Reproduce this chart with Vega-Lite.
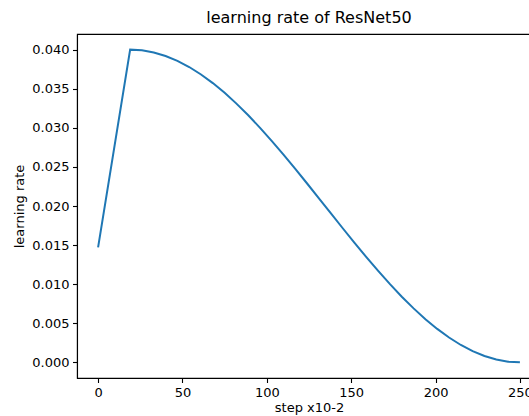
{
  "$schema": "https://vega.github.io/schema/vega-lite/v6.json",
  "autosize": {"type": "none"},
  "padding": {"left": 77, "top": 34, "right": 0, "bottom": 38},
  "width": 464,
  "height": 344,
  "background": "white",
  "config": {
    "font": "DejaVu Sans",
    "view": {"stroke": "black", "strokeWidth": 1.1},
    "axis": {
      "grid": false,
      "domainColor": "black",
      "domainWidth": 1.1,
      "tickColor": "black",
      "tickWidth": 1.1,
      "tickSize": 4.5,
      "labelPadding": 3.5,
      "labelFontSize": 13,
      "labelColor": "black",
      "labelFont": "DejaVu Sans",
      "titleFont": "DejaVu Sans",
      "titleFontSize": 13,
      "titleFontWeight": "normal",
      "titleColor": "black"
    }
  },
  "title": {
    "text": "learning rate of ResNet50",
    "fontSize": 16,
    "fontWeight": "normal",
    "font": "DejaVu Sans",
    "color": "black",
    "offset": 8
  },
  "data": {
    "values": [
      {"step": 0, "lr": 0.0147},
      {"step": 19, "lr": 0.04},
      {"step": 26, "lr": 0.039909},
      {"step": 33, "lr": 0.039639},
      {"step": 40, "lr": 0.03919},
      {"step": 47, "lr": 0.038567},
      {"step": 54, "lr": 0.037777},
      {"step": 61, "lr": 0.036825},
      {"step": 68, "lr": 0.035721},
      {"step": 75, "lr": 0.034475},
      {"step": 82, "lr": 0.033097},
      {"step": 89, "lr": 0.031601},
      {"step": 96, "lr": 0.03},
      {"step": 103, "lr": 0.028308},
      {"step": 110, "lr": 0.026541},
      {"step": 117, "lr": 0.024715},
      {"step": 124, "lr": 0.022846},
      {"step": 131, "lr": 0.020952},
      {"step": 138, "lr": 0.019048},
      {"step": 145, "lr": 0.017154},
      {"step": 152, "lr": 0.015285},
      {"step": 159, "lr": 0.013459},
      {"step": 166, "lr": 0.011692},
      {"step": 173, "lr": 0.01},
      {"step": 180, "lr": 0.008399},
      {"step": 187, "lr": 0.006903},
      {"step": 194, "lr": 0.005525},
      {"step": 201, "lr": 0.004279},
      {"step": 208, "lr": 0.003175},
      {"step": 215, "lr": 0.002223},
      {"step": 222, "lr": 0.001433},
      {"step": 229, "lr": 0.00081},
      {"step": 236, "lr": 0.000361},
      {"step": 243, "lr": 0.000091},
      {"step": 250, "lr": 0.0}
    ]
  },
  "mark": {"type": "line", "color": "#1f77b4", "strokeWidth": 2},
  "encoding": {
    "x": {
      "field": "step",
      "type": "quantitative",
      "scale": {"domain": [-12.5, 262.5], "nice": false, "zero": false},
      "axis": {"values": [0, 50, 100, 150, 200, 250], "format": "d", "title": "step x10-2", "titlePadding": 2}
    },
    "y": {
      "field": "lr",
      "type": "quantitative",
      "scale": {"domain": [-0.002, 0.042], "nice": false, "zero": false},
      "axis": {"values": [0, 0.005, 0.01, 0.015, 0.02, 0.025, 0.03, 0.035, 0.04], "format": ".3f", "title": "learning rate", "titlePadding": 5}
    }
  }
}
